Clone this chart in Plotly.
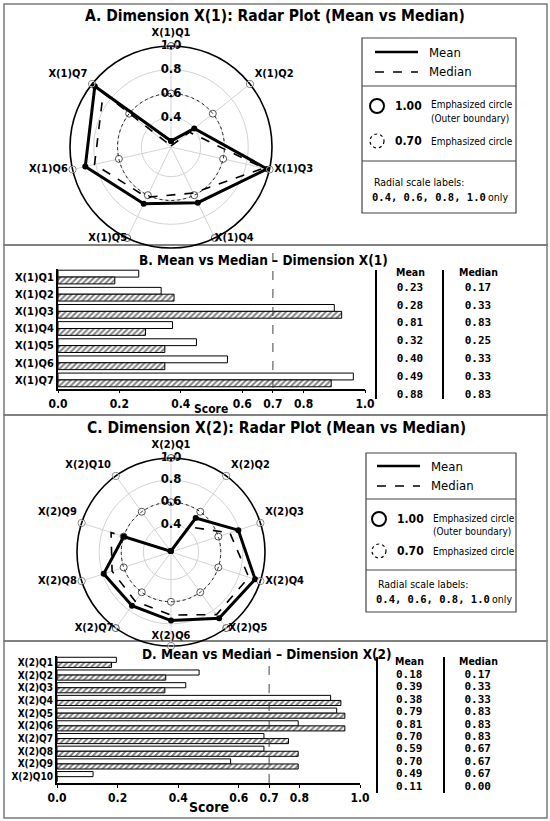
import plotly.graph_objects as go

W, H = 550, 821


def px(x):
    return x / W


def py(y):
    return 1 - y / H


FONT = "DejaVu Sans Condensed, Liberation Sans Narrow, Roboto Condensed, Liberation Sans, Arial, sans-serif"
MONO = "DejaVu Sans Mono, Liberation Mono, monospace"

# ---------------- data ----------------
items_1 = ["X(1)Q1", "X(1)Q2", "X(1)Q3", "X(1)Q4", "X(1)Q5", "X(1)Q6", "X(1)Q7"]
items_2 = ["X(2)Q1", "X(2)Q2", "X(2)Q3", "X(2)Q4", "X(2)Q5",
           "X(2)Q6", "X(2)Q7", "X(2)Q8", "X(2)Q9", "X(2)Q10"]

# radar values (as drawn)
radar_mean_1 = [0.20, 0.40, 0.98, 0.67, 0.68, 0.89, 0.97]
radar_median_1 = [0.16, 0.35, 0.95, 0.58, 0.62, 0.81, 0.88]
radar_mean_2 = [0.16, 0.53, 0.79, 0.95, 0.89, 0.77, 0.75, 0.79, 0.60, 0.16]
radar_median_2 = [0.16, 0.43, 0.71, 0.89, 0.85, 0.72, 0.70, 0.71, 0.72, 0.16]

# bar lengths (as drawn)
bar_mean_1 = [0.263, 0.336, 0.90, 0.373, 0.451, 0.552, 0.962]
bar_median_1 = [0.185, 0.378, 0.924, 0.285, 0.348, 0.348, 0.89]
bar_mean_2 = [0.196, 0.469, 0.425, 0.903, 0.923, 0.796, 0.683, 0.683, 0.573, 0.119]
bar_median_2 = [0.18, 0.359, 0.356, 0.937, 0.95, 0.95, 0.764, 0.796, 0.796, 0.0]

# table values (as printed)
table_mean_1 = [0.23, 0.28, 0.81, 0.32, 0.40, 0.49, 0.88]
table_median_1 = [0.17, 0.33, 0.83, 0.25, 0.33, 0.33, 0.83]
table_mean_2 = [0.18, 0.39, 0.38, 0.79, 0.81, 0.70, 0.59, 0.70, 0.49, 0.11]
table_median_2 = [0.17, 0.33, 0.33, 0.83, 0.83, 0.83, 0.67, 0.67, 0.67, 0.00]

radial_ticks = [0.4, 0.6, 0.8, 1.0]
ring_outer = 1.0
ring_inner = 0.6
score_ticks = [0.0, 0.2, 0.4, 0.6, 0.7, 0.8, 1.0]

# where each spoke label sits relative to the end of its spoke, and its gap
label_pos_1 = ["top center", "top right", "middle right", "middle right",
               "middle left", "middle left", "top left"]
label_gap_1 = [10, 6, 6, 0, 0, 6, 6]
label_pos_2 = ["top center", "top right", "top right", "middle right", "middle right",
               "top center", "middle left", "middle left", "top left", "top left"]
label_gap_2 = [10, 6, 6, 6, 2, 6, 2, 6, 6, 6]

fig = go.Figure()


def add_radar(items, mean, median, label_pos, label_gap, base, top):
    n = len(items)
    # reference markers on the rings (bottom polar)
    fig.add_trace(go.Scatterpolar(
        r=[ring_outer] * n + [ring_inner] * n, theta=items + items, mode="markers",
        marker=dict(color="white", size=7, line=dict(color="#555", width=1)),
        subplot=base, showlegend=False, hoverinfo="skip", cliponaxis=False))
    fig.add_trace(go.Scatterpolar(
        r=median + median[:1], theta=items + items[:1], mode="lines",
        line=dict(color="black", width=1.6, dash="dash"),
        subplot=top, showlegend=False))
    fig.add_trace(go.Scatterpolar(
        r=mean + mean[:1], theta=items + items[:1], mode="lines+markers",
        line=dict(color="black", width=3),
        marker=dict(color="black", size=6),
        subplot=top, showlegend=False, cliponaxis=False))
    fig.add_trace(go.Scatterpolar(
        r=radial_ticks, theta=[items[0]] * len(radial_ticks), mode="text",
        text=[f"{v:.1f}" for v in radial_ticks],
        textfont=dict(family=FONT, size=13, color="black", weight="bold"),
        subplot=top, showlegend=False, hoverinfo="skip", cliponaxis=False))
    # spoke labels (invisible markers give the text its gap from the ring)
    fig.add_trace(go.Scatterpolar(
        r=[ring_outer] * n, theta=items, mode="markers+text", text=items,
        textposition=label_pos,
        marker=dict(size=label_gap, color="rgba(0,0,0,0)"),
        textfont=dict(family=FONT, size=11, color="black", weight="bold"),
        subplot=top, showlegend=False, hoverinfo="skip", cliponaxis=False))


add_radar(items_1, radar_mean_1, radar_median_1, label_pos_1, label_gap_1, "polar", "polar2")
add_radar(items_2, radar_mean_2, radar_median_2, label_pos_2, label_gap_2, "polar3", "polar4")


def add_bars(items, mean, median, xa, ya):
    fig.add_trace(go.Bar(
        y=items, x=mean, orientation="h", xaxis=xa, yaxis=ya,
        marker=dict(color="white", line=dict(color="black", width=1)),
        showlegend=False))
    fig.add_trace(go.Bar(
        y=items, x=median, orientation="h", xaxis=xa, yaxis=ya,
        marker=dict(color="white", line=dict(color="black", width=1),
                    pattern=dict(shape="/", fgcolor="black", bgcolor="white",
                                 size=4, solidity=0.5)),
        showlegend=False))


add_bars(items_1, bar_mean_1, bar_median_1, "x", "y")
add_bars(items_2, bar_mean_2, bar_median_2, "x2", "y2")


def add_table(mean, median, xa, ya, size):
    n = len(mean)
    for col, vals in (("Mean", mean), ("Median", median)):
        fig.add_trace(go.Scatter(
            x=[col] * n, y=list(range(n)), mode="text",
            text=[f"{v:.2f}" for v in vals], xaxis=xa, yaxis=ya,
            textfont=dict(family=MONO, size=size, color="black", weight="bold"),
            showlegend=False, hoverinfo="skip"))


add_table(table_mean_1, table_median_1, "x3", "y3", 11)
add_table(table_mean_2, table_median_2, "x4", "y4", 11)


# ---------------- polar layout ----------------
def polar_pair(x0, x1, y0, y1):
    dom = dict(x=[px(x0), px(x1)], y=[py(y1), py(y0)])
    base = dict(
        domain=dom, bgcolor="rgba(0,0,0,0)",
        radialaxis=dict(range=[0.15, 1], tickvals=radial_ticks, showticklabels=False,
                        gridcolor="#d3d3d3", gridwidth=1, showline=False, ticks="", angle=90),
        angularaxis=dict(direction="clockwise", rotation=90, linecolor="black", linewidth=1.6,
                         gridcolor="#d3d3d3", ticks="", showticklabels=False))
    top = dict(
        domain=dom, bgcolor="rgba(0,0,0,0)",
        radialaxis=dict(range=[0.15, 1], tickvals=[ring_inner], showticklabels=False,
                        gridcolor="#222", griddash="dot", gridwidth=1.2,
                        showline=False, ticks="", angle=90),
        angularaxis=dict(direction="clockwise", rotation=90, showline=False, showgrid=False,
                         showticklabels=False, ticks=""))
    return base, top


p1, p2 = polar_pair(70, 272, 46, 248)
p3, p4 = polar_pair(77, 265, 458, 646)

tickfont = dict(family=FONT, size=12, color="black", weight="bold")


def bar_xaxis(x0, x1, anchor):
    return dict(domain=[px(x0), px(x1)], range=[0, 1], anchor=anchor,
                tickvals=score_ticks, ticktext=[f"{v:.1f}" for v in score_ticks],
                tickfont=tickfont, showline=True, linecolor="black", linewidth=1.5,
                ticks="outside", ticklen=3, tickcolor="black",
                showgrid=False, zeroline=False, automargin=False)


def bar_yaxis(y0, y1, n, anchor, size):
    return dict(domain=[py(y1), py(y0)], type="category", range=[n - 0.5, -0.5],
                tickmode="linear", tick0=0, dtick=1,
                anchor=anchor, showline=True, linecolor="black", linewidth=2,
                ticks="", showgrid=False, zeroline=False, automargin=False,
                tickfont=dict(family=FONT, size=size, color="black", weight="bold"))


def table_axes(x0, x1, y0, y1, n, xname, yname):
    xa = dict(domain=[px(x0), px(x1)], type="category",
              categoryarray=["Mean", "Median"], range=[-0.5, 1.5],
              visible=False, anchor=yname, automargin=False)
    ya = dict(domain=[py(y1), py(y0)], range=[n - 0.5, -0.5], visible=False,
              anchor=xname, automargin=False)
    return xa, ya


xa3, ya3 = table_axes(376, 512, 279, 404, 7, "x3", "y3")
xa4, ya4 = table_axes(375, 512, 669, 793, 10, "x4", "y4")

# ---------------- shapes ----------------
shapes = []
border = dict(color="#7a7a7a", width=1.5)
for (y0, y1) in [(4, 245), (245, 415), (415, 641), (641, 818)]:
    shapes.append(dict(type="rect", xref="paper", yref="paper", layer="below",
                       x0=px(4), x1=px(547), y0=py(y1), y1=py(y0), line=border))

# reference lines at 0.7
shapes.append(dict(type="line", xref="x", yref="paper", x0=0.7, x1=0.7,
                   y0=py(388), y1=py(253), line=dict(color="#444", width=1, dash="dash")))
shapes.append(dict(type="line", xref="x2", yref="paper", x0=0.7, x1=0.7,
                   y0=py(783), y1=py(648), line=dict(color="#444", width=1, dash="dash")))

# table column rules
for (xs, y0, y1) in [((376, 443), 270, 399), ((377, 444), 657, 793)]:
    for xv in xs:
        shapes.append(dict(type="line", xref="paper", yref="paper", x0=px(xv), x1=px(xv),
                           y0=py(y1), y1=py(y0), line=dict(color="black", width=2)))

annotations = []


def text(x, y, s, size=12, bold=False, family=FONT, xanchor="left"):
    annotations.append(dict(x=px(x), y=py(y), xref="paper", yref="paper", text=s,
                            showarrow=False, xanchor=xanchor, yanchor="middle",
                            font=dict(family=family, size=size, color="black",
                                      weight="bold" if bold else "normal")))


def legend_box(x0, x1, y0, y1, d1, d2, lx, ty):
    # ty: y of mean, median, circle1, circle2, radial label, radial values
    shapes.append(dict(type="rect", xref="paper", yref="paper", x0=px(x0), x1=px(x1),
                       y0=py(y1), y1=py(y0), line=dict(color="#444", width=1.2)))
    for d in (d1, d2):
        shapes.append(dict(type="line", xref="paper", yref="paper", x0=px(x0), x1=px(x1),
                           y0=py(d), y1=py(d), line=dict(color="#444", width=1.2)))
    shapes.append(dict(type="line", xref="paper", yref="paper", x0=px(lx), x1=px(lx + 43),
                       y0=py(ty[0]), y1=py(ty[0]), line=dict(color="black", width=2.5)))
    shapes.append(dict(type="line", xref="paper", yref="paper", x0=px(lx), x1=px(lx + 43),
                       y0=py(ty[1]), y1=py(ty[1]), line=dict(color="black", width=1.3, dash="dash")))
    text(lx + 52, ty[0], "Mean", 13)
    text(lx + 52, ty[1], "Median", 13)
    cx = lx + 2
    shapes.append(dict(type="circle", xref="paper", yref="paper", x0=px(cx - 7), x1=px(cx + 7),
                       y0=py(ty[2] + 7), y1=py(ty[2] - 7), line=dict(color="black", width=2)))
    shapes.append(dict(type="circle", xref="paper", yref="paper", x0=px(cx - 7), x1=px(cx + 7),
                       y0=py(ty[3] + 7), y1=py(ty[3] - 7), line=dict(color="black", width=1.2, dash="dot")))
    text(cx + 16, ty[2], "1.00", 12, bold=True)
    text(cx + 16, ty[3], "0.70", 12, bold=True)
    text(cx + 52, ty[2] - 1, "Emphasized circle", 10)
    text(cx + 52, ty[2] + 12, "(Outer boundary)", 10)
    text(cx + 52, ty[3], "Emphasized circle", 10)
    text(x0 + 10, ty[4], "Radial scale labels:", 10.5)
    text(x0 + 8, ty[5], "0.4, 0.6, 0.8, 1.0", 10.5, bold=True, family=MONO)
    text(x0 + 124, ty[5], "only", 10.5)


legend_box(362, 516, 38, 213, 86, 161, 375, [52, 72, 106, 141, 182, 197])
legend_box(366, 516, 453, 612, 499, 570, 377, [466, 486, 519, 551, 584, 599])

# titles
text(275, 16, "A. Dimension X(1): Radar Plot (Mean vs Median)", 15.5, True, xanchor="center")
text(263, 260, "B. Mean vs Median \u2013 Dimension X(1)", 13.5, True, xanchor="center")
text(276, 428, "C. Dimension X(2): Radar Plot (Mean vs Median)", 15.5, True, xanchor="center")
text(267, 654, "D. Mean vs Median \u2013 Dimension X(2)", 13.5, True, xanchor="center")
text(211, 409, "Score", 12, True, xanchor="center")
text(209, 807, "Score", 14, True, xanchor="center")

# table headers
text(410, 272, "Mean", 10.5, True, xanchor="center")
text(478, 272, "Median", 10.5, True, xanchor="center")
text(409, 661, "Mean", 10.5, True, xanchor="center")
text(478, 661, "Median", 10.5, True, xanchor="center")

fig.update_layout(
    width=W, height=H, margin=dict(l=0, r=0, t=0, b=0, autoexpand=False),
    paper_bgcolor="white", plot_bgcolor="rgba(0,0,0,0)",
    barmode="group", bargap=0.2, bargroupgap=0.0,
    polar=p1, polar2=p2, polar3=p3, polar4=p4,
    xaxis=bar_xaxis(58, 365, "y"), yaxis=bar_yaxis(268.5, 388.5, 7, "x", 11),
    xaxis2=bar_xaxis(57, 360, "y2"), yaxis2=bar_yaxis(656, 783, 10, "x2", 10),
    xaxis3=xa3, yaxis3=ya3, xaxis4=xa4, yaxis4=ya4,
    shapes=shapes, annotations=annotations,
    font=dict(family=FONT, color="black"),
)

fig.write_html("out.html", config={"displayModeBar": False},
               post_script="document.body.style.margin='0';")
